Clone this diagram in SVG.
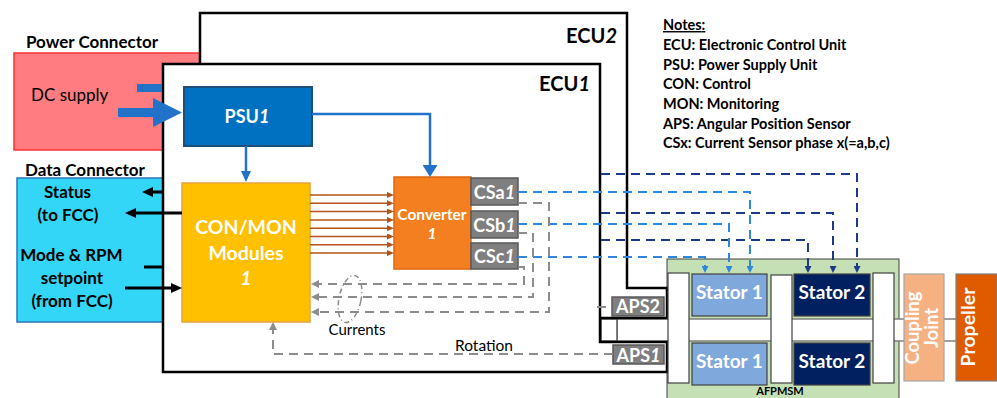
<svg xmlns="http://www.w3.org/2000/svg" width="997" height="398" viewBox="0 0 997 398">
<style>
text{font-family:Lato,"Liberation Sans",sans-serif;font-weight:bold;fill:#000}
.w{fill:#fff}
.it{font-style:italic}
.rg{font-weight:normal}
.ecu{fill:#fff;stroke:#000;stroke-width:2.5}
.gbox{fill:#7f7f7f;stroke:#595959;stroke-width:1.5}
.bar{fill:#fff;stroke:#404040;stroke-width:1.2}
.lb{fill:none;stroke:#2f86dd;stroke-width:2;stroke-dasharray:9 6}
.nv{fill:none;stroke:#1c3a87;stroke-width:2;stroke-dasharray:9 6}
.gd{fill:none;stroke:#8c8c8c;stroke-width:2;stroke-dasharray:9 6}
.bk{fill:none;stroke:#000;stroke-width:3}
.br{fill:none;stroke:#b5541a;stroke-width:1.5}
.bl{fill:none;stroke:#2272c9;stroke-width:2.5}
</style>
<defs>
<marker id="aK" viewBox="0 0 11 10" refX="1" refY="5" markerWidth="11" markerHeight="10" markerUnits="userSpaceOnUse" orient="auto"><path d="M0,0L11,5L0,10z" fill="#000"/></marker>
<marker id="aBs" viewBox="0 0 11 10" refX="1" refY="5" markerWidth="11" markerHeight="10" markerUnits="userSpaceOnUse" orient="auto"><path d="M0,0L11,5L0,10z" fill="#2272c9"/></marker>
<marker id="aBl" viewBox="0 0 12 15" refX="1" refY="7.5" markerWidth="12" markerHeight="15" markerUnits="userSpaceOnUse" orient="auto"><path d="M0,0L12,7.5L0,15z" fill="#2272c9"/></marker>
<marker id="aR" viewBox="0 0 7 6" refX="1" refY="3" markerWidth="7" markerHeight="6" markerUnits="userSpaceOnUse" orient="auto"><path d="M0,0L7,3L0,6z" fill="#b5541a"/></marker>
<marker id="aLB" viewBox="0 0 7 7" refX="1" refY="3.5" markerWidth="7" markerHeight="7" markerUnits="userSpaceOnUse" orient="auto"><path d="M0,0L7,3.5L0,7z" fill="#2f86dd"/></marker>
<marker id="aNV" viewBox="0 0 7 7" refX="1" refY="3.5" markerWidth="7" markerHeight="7" markerUnits="userSpaceOnUse" orient="auto"><path d="M0,0L7,3.5L0,7z" fill="#1c3a87"/></marker>
<marker id="aG" viewBox="0 0 8 8" refX="1" refY="4" markerWidth="8" markerHeight="8" markerUnits="userSpaceOnUse" orient="auto"><path d="M0,0L8,4L0,8z" fill="#8c8c8c"/></marker>
</defs>

<g id="power-connector">
<rect x="14" y="53" width="196" height="97" fill="#ff7c80" stroke="#ff3030" stroke-width="1.5"/>
<text x="26" y="48" font-size="17">Power Connector</text>
<text x="31" y="101" font-size="17" class="rg">DC supply</text>
</g>
<g id="data-connector">
<rect x="17" y="178" width="153" height="144" fill="#33d6f6" stroke="#2e75b6" stroke-width="1.5"/>
<text x="25" y="176" font-size="17">Data Connector</text>
<g font-size="17" text-anchor="middle">
<text x="67.5" y="198">Status</text>
<text x="68" y="221">(to FCC)</text>
<text x="71.5" y="261">Mode &amp; RPM</text>
<text x="72" y="284">setpoint</text>
<text x="72" y="307">(from FCC)</text>
</g>
</g>

<g id="afpmsm">
<rect x="667" y="259" width="232" height="145" fill="#c5e0b4" stroke="#404040" stroke-width="1"/>
</g>
<g id="shaft">
<rect x="617" y="319" width="343" height="22" fill="#fff" stroke="#7f7f7f" stroke-width="1.5"/>
<rect x="601" y="319" width="16" height="22" fill="#fff" stroke="#595959" stroke-width="1.5"/>
</g>

<g id="ecu2">
<path class="ecu" d="M200,13H627V288H667V318H200Z"/>
<text x="617" y="43" font-size="20" text-anchor="end">ECU<tspan class="it">2</tspan></text>
</g>
<g id="ecu1">
<path class="ecu" d="M163,64H600V342H667V372H163Z"/>
<text x="590" y="91" font-size="20" text-anchor="end">ECU<tspan class="it">1</tspan></text>
</g>

<g id="psu1">
<rect x="184" y="87" width="128" height="59" fill="#0070c0" stroke="#1f4e79" stroke-width="2"/>
<text x="247" y="123" font-size="18" text-anchor="middle" class="w">PSU<tspan class="it">1</tspan></text>
</g>
<g id="conmon1">
<rect x="182" y="183" width="128" height="139" fill="#ffc000" stroke="#e8a33a" stroke-width="1.5"/>
<g font-size="19.5" text-anchor="middle">
<text x="246" y="234" class="w">CON/MON</text>
<text x="246" y="260" class="w">Modules</text>
<text x="246" y="285" class="w it">1</text>
</g>
</g>
<g id="converter1">
<rect x="394" y="177" width="77" height="92" fill="#f47f20" stroke="#e0650a" stroke-width="1.5"/>
<text x="432" y="220" font-size="15.5" text-anchor="middle" class="w">Converter</text>
<text x="432" y="239" font-size="15.5" text-anchor="middle" class="w it">1</text>
</g>
<g id="csa1">
<rect class="gbox" x="471" y="178" width="47" height="27"/>
<text x="494.5" y="199" font-size="18" text-anchor="middle" class="w">CSa<tspan class="it">1</tspan></text>
</g>
<g id="csb1">
<rect class="gbox" x="471" y="211" width="47" height="27"/>
<text x="494.5" y="232" font-size="18" text-anchor="middle" class="w">CSb<tspan class="it">1</tspan></text>
</g>
<g id="csc1">
<rect class="gbox" x="471" y="243" width="47" height="26"/>
<text x="494.5" y="263" font-size="18" text-anchor="middle" class="w">CSc<tspan class="it">1</tspan></text>
</g>
<g id="aps2">
<rect class="gbox" x="612" y="297" width="52" height="19"/>
<text x="638" y="313" font-size="18" text-anchor="middle" class="w">APS2</text>
</g>
<g id="aps1">
<rect class="gbox" x="613" y="345" width="51" height="19"/>
<text x="638.5" y="362" font-size="18" text-anchor="middle" class="w">APS<tspan class="it">1</tspan></text>
</g>

<g id="motor-parts">
<rect class="bar" x="668" y="273" width="21" height="110"/>
<rect class="bar" x="771" y="275" width="21" height="108"/>
<rect class="bar" x="873" y="273" width="21" height="110"/>
</g>
<g id="stator1-top">
<rect x="692" y="274" width="75" height="42" fill="#7fa8dc" stroke="#404040" stroke-width="1.2"/>
<text x="729.5" y="299" font-size="19" text-anchor="middle" class="w">Stator 1</text>
</g>
<g id="stator2-top">
<rect x="794" y="274" width="76" height="42" fill="#002060" stroke="#404040" stroke-width="1.2"/>
<text x="832" y="299" font-size="19" text-anchor="middle" class="w">Stator 2</text>
</g>
<g id="stator1-bottom">
<rect x="692" y="343" width="75" height="42" fill="#7fa8dc" stroke="#404040" stroke-width="1.2"/>
<text x="729.5" y="368" font-size="19" text-anchor="middle" class="w">Stator 1</text>
</g>
<g id="stator2-bottom">
<rect x="794" y="343" width="76" height="42" fill="#002060" stroke="#404040" stroke-width="1.2"/>
<text x="832" y="368" font-size="19" text-anchor="middle" class="w">Stator 2</text>
</g>
<g id="afpmsm-label">
<text x="780" y="395" font-size="11" text-anchor="middle">AFPMSM</text>
</g>
<g id="coupling-joint">
<rect x="904" y="274" width="40" height="107" fill="#f6b183" stroke="#a6a6a6" stroke-width="1.2"/>
<text transform="translate(924,328) rotate(-90)" font-size="18.5" text-anchor="middle" class="w"><tspan x="0" y="-5.5">Coupling</tspan><tspan x="0" y="14">Joint</tspan></text>
</g>
<g id="propeller">
<rect x="956" y="274" width="41" height="107" fill="#e05a00" stroke="#7f7f7f" stroke-width="1.2"/>
<text transform="translate(976,327) rotate(-90)" font-size="19.5" text-anchor="middle" y="-1" class="w">Propeller</text>
</g>

<g id="notes" font-size="14.5">
<text x="663" y="30" text-decoration="underline">Notes<tspan text-decoration="none">:</tspan></text>
<text x="663" y="50">ECU: Electronic Control Unit</text>
<text x="663" y="69.5">PSU: Power Supply Unit</text>
<text x="663" y="89">CON: Control</text>
<text x="663" y="109">MON: Monitoring</text>
<text x="663" y="128.5">APS: Angular Position Sensor</text>
<text x="663" y="148">CSx: Current Sensor phase x(=a,b,c)</text>
</g>

<g id="connectors">
<rect x="137" y="84" width="25" height="8" fill="#2272c9"/>
<rect x="118" y="108" width="37" height="9" fill="#2272c9"/>
<path d="M153,98L182,112.5L153,127Z" fill="#2272c9"/>
<path class="bl" d="M246,146V172" marker-end="url(#aBs)"/>
<path class="bl" d="M312,114H430V166" stroke-width="3" marker-end="url(#aBl)"/>
<path class="bk" d="M164,192H152" marker-end="url(#aK)"/>
<path class="bk" d="M182,213H135" marker-end="url(#aK)"/>
<path class="bk" d="M144,267H163"/>
<path class="bk" d="M125,288H172" marker-end="url(#aK)"/>
<g class="br">
<path d="M310,195H388" marker-end="url(#aR)"/>
<path d="M310,203.3H388" marker-end="url(#aR)"/>
<path d="M310,211.6H388" marker-end="url(#aR)"/>
<path d="M310,219.9H388" marker-end="url(#aR)"/>
<path d="M310,228.2H388" marker-end="url(#aR)"/>
<path d="M310,236.5H388" marker-end="url(#aR)"/>
<path d="M310,244.8H388" marker-end="url(#aR)"/>
<path d="M310,253.1H388" marker-end="url(#aR)"/>
</g>
<path class="nv" d="M601,174H857V267" marker-end="url(#aNV)"/>
<path class="nv" d="M601,213H833V267" marker-end="url(#aNV)"/>
<path class="nv" d="M601,240H808V267" marker-end="url(#aNV)"/>
<path class="lb" d="M518,192H750V267" marker-end="url(#aLB)"/>
<path class="lb" d="M518,224H729V267" marker-end="url(#aLB)"/>
<path class="lb" d="M518,257H705V267" marker-end="url(#aLB)"/>
<path class="gd" d="M518,203H549V312H318" marker-end="url(#aG)"/>
<path class="gd" d="M518,233H533V297H318" marker-end="url(#aG)"/>
<path class="gd" d="M518,267H524V284H318" marker-end="url(#aG)"/>
<path class="gd" d="M613,354H273V329" marker-end="url(#aG)"/>
<path class="gd" d="M597,307H612" stroke-dasharray="7 4"/>
<ellipse cx="350" cy="299" rx="11" ry="24" transform="rotate(12 350 299)" fill="none" stroke="#8c8c8c" stroke-width="1.5" stroke-dasharray="5 3 1 3"/>
<text x="357" y="335" font-size="15" text-anchor="middle" class="rg" fill="#262626">Currents</text>
<text x="484" y="351" font-size="15.5" text-anchor="middle" class="rg" fill="#262626">Rotation</text>
</g>
</svg>
